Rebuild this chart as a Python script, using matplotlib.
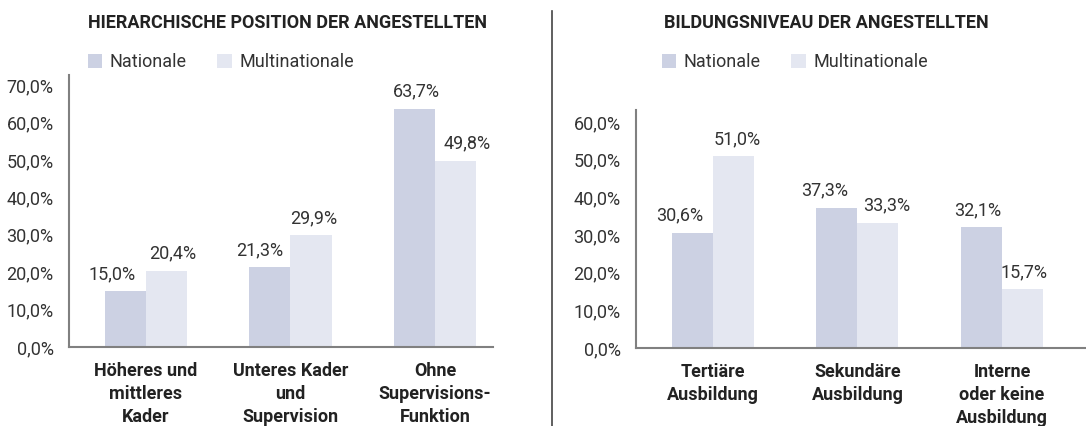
import matplotlib
matplotlib.use("Agg")
from matplotlib import pyplot as plt
import numpy as np

plt.rcParams["font.family"] = ["Roboto", "DejaVu Sans"]

series = ["Nationale", "Multinationale"]
colors = ["#ccd1e3", "#e4e7f1"]

title1 = "HIERARCHISCHE POSITION DER ANGESTELLTEN"
cats1 = ["Höheres und\nmittleres\nKader", "Unteres Kader\nund\nSupervision", "Ohne\nSupervisions-\nFunktion"]
nat1 = [15.0, 21.3, 63.7]
multi1 = [20.4, 29.9, 49.8]

title2 = "BILDUNGSNIVEAU DER ANGESTELLTEN"
cats2 = ["Tertiäre\nAusbildung", "Sekundäre\nAusbildung", "Interne\noder keine\nAusbildung"]
nat2 = [30.6, 37.3, 32.1]
multi2 = [51.0, 33.3, 15.7]

# horizontal nudges of the value labels (pixels), as placed in the original
shift1 = ([-13, -10, 2], [6, 3, 11])
shift2 = ([-12, -12, -4], [4, 9, 1])

W, H = 1086, 426
fig = plt.figure(figsize=(W / 100, H / 100), dpi=100)


def px_axes(x0, y0, x1, y1):
    return fig.add_axes([x0 / W, (H - y1) / H, (x1 - x0) / W, (y1 - y0) / H])


def draw(ax, cats, nat, multi, shifts, ymax, yticks, xlim):
    x = np.arange(len(cats))
    w = 0.284
    b1 = ax.bar(x - w, nat, w, align="edge", color=colors[0], label=series[0])
    b2 = ax.bar(x, multi, w, align="edge", color=colors[1], label=series[1])
    for bars, sh in zip((b1, b2), shifts):
        for r, dx in zip(bars, sh):
            v = r.get_height()
            ax.annotate(f"{v:.1f}%".replace(".", ","), (r.get_x() + r.get_width() / 2, v),
                        xytext=(dx * 0.72, 12.2), textcoords="offset points", ha="center",
                        va="center", fontsize=13, color="#333333")
    ax.set_xlim(*xlim)
    ax.set_ylim(0, ymax)
    ax.set_yticks(yticks)
    ax.set_yticklabels([f"{t:.1f}%".replace(".", ",") for t in yticks], fontsize=13, color="#333333")
    ax.set_xticks(x)
    ax.set_xticklabels(cats, fontsize=13, fontweight="bold", color="#222222", linespacing=1.33)
    ax.tick_params(length=0, pad=11)
    ax.tick_params(axis="y", pad=11)
    for s in ["top", "right"]:
        ax.spines[s].set_visible(False)
    for s in ["left", "bottom"]:
        ax.spines[s].set_color("#808080")
        ax.spines[s].set_linewidth(1.5)


ax1 = px_axes(69, 75, 493, 347)
draw(ax1, cats1, nat1, multi1, shift1, 72.7, np.arange(0, 71, 10), (-0.53, 2.40))
ax2 = px_axes(636, 110, 1086, 348)
draw(ax2, cats2, nat2, multi2, shift2, 63.2, np.arange(0, 61, 10), (-0.53, 2.58))

fig.text(287 / W, 1 - 23 / H, title1, ha="center", va="center", fontsize=13,
         fontweight="bold", color="#222222")
fig.text(826 / W, 1 - 23 / H, title2, ha="center", va="center", fontsize=13,
         fontweight="bold", color="#222222")

for ax, lx in [(ax1, 88), (ax2, 662)]:
    ax.legend(loc="center left", bbox_to_anchor=(lx / W, 1 - 62 / H), bbox_transform=fig.transFigure,
              ncol=2, frameon=False, fontsize=13, handlelength=0.8, handleheight=0.8,
              handletextpad=0.4, columnspacing=1.7, borderpad=0, borderaxespad=0,
              labelcolor="#333333")

fig.add_artist(plt.Line2D([552 / W, 552 / W], [0, 1 - 11 / H], transform=fig.transFigure,
                          color="#444444", linewidth=1.2))

fig.savefig("out.png", dpi=100)
